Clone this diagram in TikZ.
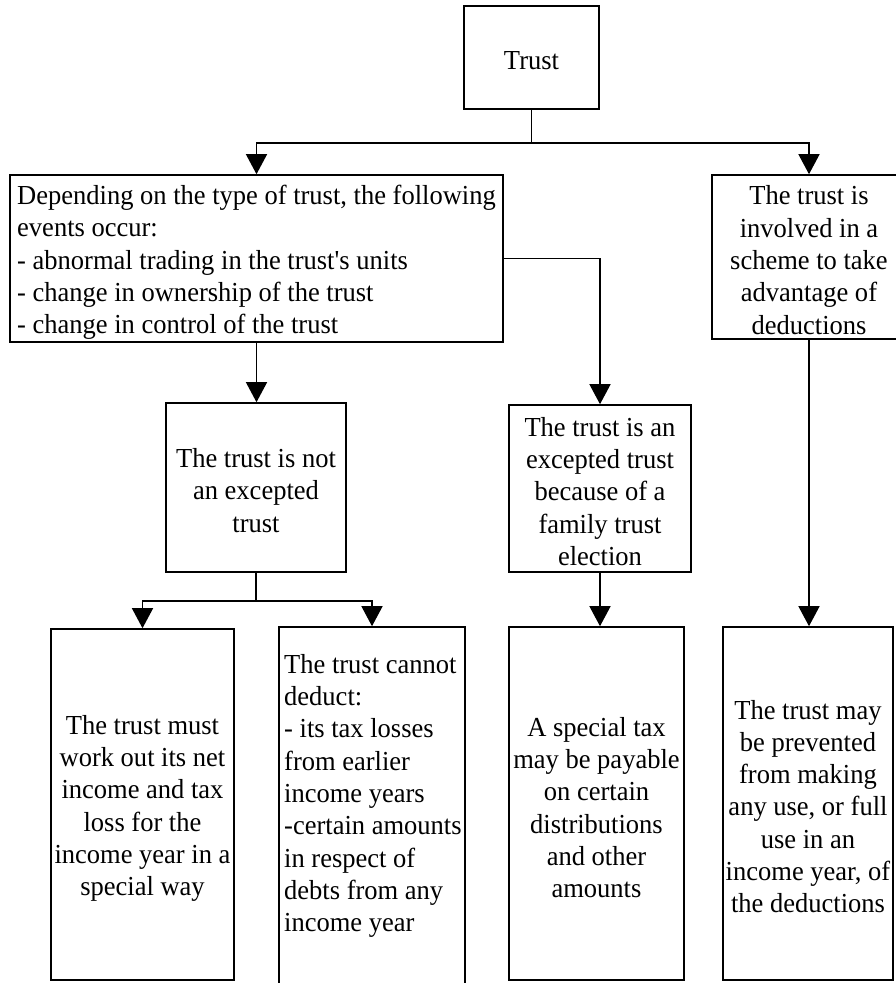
\documentclass[tikz,border=0pt]{standalone}
\usepackage{fontspec}
\setmainfont[FakeStretch=0.964]{Liberation Serif}
\usetikzlibrary{arrows.meta}
\newcommand\myfs{\fontsize{27.5}{32.3}\selectfont}
\tikzset{
  box/.style={draw, line width=1.6pt, inner sep=0pt},
  txt/.style={inner sep=0pt, font=\myfs, align=center},
  conn/.style={line width=1.4pt},
  arr/.style={conn, -{Triangle[length=20pt,width=21pt]}}
}
\begin{document}
\begin{tikzpicture}[x=1pt,y=-1pt]
\useasboundingbox (0,0) rectangle (896,983);
\clip (0,0) rectangle (896,983);
\fill[white] (0,0) rectangle (896,983);
% boxes
\node[box, minimum width=135pt, minimum height=103pt] (trust) at (531.5,57.5) {};
\node[txt] (trustt) at ([yshift=-3pt]trust.center) {Trust};
\node[box, minimum width=493pt, minimum height=167pt] (dep) at (256.5,258.5) {};
\node[txt, align=left] (dept) at ([yshift=-4pt]dep.center)
  {Depending on the type of trust, the following\\events occur:\\- abnormal trading in the trust\textquotesingle s units\\- change in ownership of the trust\\- change in control of the trust};
\node[box, minimum width=194pt, minimum height=164pt] (adv) at (809,257) {};
\node[txt] (advt) at ([yshift=-3pt]adv.center)
  {The trust is\\involved in a\\scheme to take\\advantage of\\deductions};
\node[box, minimum width=180pt, minimum height=169pt] (notx) at (256,487.5) {};
\node[txt] (notxt) at ([yshift=-3pt]notx.center)
  {The trust is not\\an excepted\\trust};
\node[box, minimum width=182pt, minimum height=167pt] (exc) at (600,488.5) {};
\node[txt] (exct) at ([yshift=-3pt]exc.center)
  {The trust is an\\excepted trust\\because of a\\family trust\\election};
\node[box, minimum width=183pt, minimum height=351pt] (b1) at (142.5,804.5) {};
\node[txt] (b1t) at ([yshift=-4pt]b1.center)
  {The trust must\\work out its net\\income and tax\\loss for the\\income year in a\\special way};
\node[box, minimum width=186pt, minimum height=380pt] (b2) at (372,817) {};
\node[txt, align=left, anchor=west] (b2t) at (284,796)
  {The trust cannot\\deduct:\\- its tax losses\\from earlier\\income years\\-certain amounts\\in respect of\\debts from any\\income year};
\node[box, minimum width=175pt, minimum height=353pt] (b3) at (596.5,803.5) {};
\node[txt] (b3t) at ([yshift=-4pt]b3.center)
  {A special tax\\may be payable\\on certain\\distributions\\and other\\amounts};
\node[box, minimum width=170pt, minimum height=353pt] (b4) at (808,803.5) {};
\node[txt] (b4t) at ([yshift=-3pt]b4.center)
  {The trust may\\be prevented\\from making\\any use, or full\\use in an\\income year, of\\the deductions};
% connectors
\draw[conn] (trust.south) -- ++(0,33) coordinate (j1);
\draw[arr] (j1) -| (dep.north);
\draw[arr] (j1) -| (adv.north);
\draw[arr] (dep.east) -| (exc.north);
\draw[arr] (dep.south) -- (dep.south |- notx.north);
\draw[conn] (notx.south) -- ++(0,28) coordinate (j2);
\draw[arr] (j2) -| (b1.north);
\draw[arr] (j2) -| (b2.north);
\draw[arr] (exc.south) -- (exc.south |- b3.north);
\draw[arr] (adv.south) -- (adv.south |- b4.north);
\end{tikzpicture}
\end{document}
